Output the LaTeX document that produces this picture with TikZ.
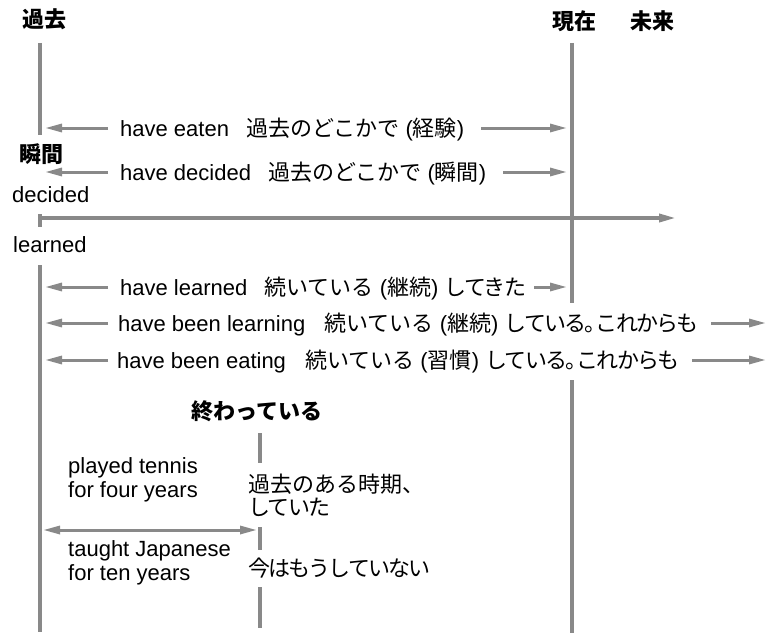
\documentclass[tikz,border=0pt]{standalone}
\usepackage{fontspec}
\setmainfont{Liberation Sans}
\newfontfamily\jp{Noto Sans CJK JP}
\newfontfamily\jpn{Noto Sans CJK JP}[LetterSpace=-8]
\newcommand{\maru}{。\hspace{-11pt}}
\usetikzlibrary{arrows.meta}
\definecolor{ln}{RGB}{137,137,137}
\begin{document}
\begin{tikzpicture}[x=1pt,y=-1pt,
  axis/.style={draw=ln,line width=3.5pt},
  arr/.style={draw=ln,line width=3pt,-{Triangle[length=17pt,width=8pt]}},
  dbl/.style={draw=ln,line width=3pt,{Triangle[length=17pt,width=8pt]}-{Triangle[length=17pt,width=8pt]}},
  txt/.style={inner sep=0pt,anchor=base west,font=\fontsize{22}{26}\selectfont},
  ttl/.style={inner sep=0pt,anchor=base,font=\fontsize{22}{26}\selectfont\jp\bfseries}]
\useasboundingbox (0,0) rectangle (768,634);
% titles
\node[ttl] (kako) at (45,28) {過去};
\node[ttl] (genzai) at (574,30) {現在};
\node[ttl] (mirai) at (652,30) {未来};
\node[ttl] (shunkan) at (41,162) {瞬間};
\node[txt] (decided) at (12,202) {decided};
\node[txt] (learned) at (13,252) {learned};
\node[ttl] (owatte) at (257,419) {終わっている};
% main vertical lines
\coordinate (L0) at (40,43); \coordinate (L1) at (40,135);
\coordinate (L2) at (40,214); \coordinate (L3) at (40,227);
\coordinate (L4) at (40,265); \coordinate (L5) at (40,632);
\draw[axis] (L0) -- (L1);
\draw[axis] (L2) -- (L3);
\draw[axis] (L4) -- (L5);
\coordinate (R0) at (572,43); \coordinate (R1) at (572,303);
\coordinate (R2) at (572,380); \coordinate (R3) at (572,633);
\draw[axis] (R0) -- (R1);
\draw[axis] (R2) -- (R3);
\coordinate (M0) at (260,433); \coordinate (M1) at (260,463);
\coordinate (M2) at (260,527); \coordinate (M3) at (260,550);
\coordinate (M4) at (260,587); \coordinate (M5) at (260,628);
\draw[axis] (M0) -- (M1);
\draw[axis] (M2) -- (M3);
\draw[axis] (M4) -- (M5);
% horizontal axis
\coordinate (A0) at (40,218); \coordinate (A1) at (676,218);
\draw[arr,line width=3.5pt] (A0) -- (A1);
% row 1
\node[txt] (r1) at (120,136) {have eaten\hspace{17pt}{\jp 過去のどこかで} ({\jp 経験})};
\coordinate (r1a) at (108,128); \coordinate (r1b) at (45,128);
\coordinate (r1c) at (481,128); \coordinate (r1d) at (567,128);
\draw[arr] (r1a) -- (r1b);
\draw[arr] (r1c) -- (r1d);
% row 2
\node[txt] (r2) at (120,180) {have decided\hspace{17pt}{\jp 過去のどこかで} ({\jp 瞬間})};
\coordinate (r2a) at (108,172); \coordinate (r2b) at (45,172);
\coordinate (r2c) at (503,172); \coordinate (r2d) at (567,172);
\draw[arr] (r2a) -- (r2b);
\draw[arr] (r2c) -- (r2d);
% row 3
\node[txt] (r3) at (120,295) {have learned\hspace{17pt}{\jp 続いている} ({\jp 継続}) {\jpn してきた}};
\coordinate (r3a) at (108,287); \coordinate (r3b) at (45,287);
\coordinate (r3c) at (534,287); \coordinate (r3d) at (567,287);
\draw[arr] (r3a) -- (r3b);
\draw[arr] (r3c) -- (r3d);
% row 4
\node[txt] (r4) at (118,331) {have been learning\hspace{19pt}{\jp 続いている} ({\jp 継続}) {\jpn している\maru これからも}};
\coordinate (r4a) at (108,323); \coordinate (r4b) at (45,323);
\coordinate (r4c) at (711,323); \coordinate (r4d) at (766,323);
\draw[arr] (r4a) -- (r4b);
\draw[arr] (r4c) -- (r4d);
% row 5
\node[txt] (r5) at (117,368) {have been eating\hspace{19pt}{\jp 続いている} ({\jp 習慣}) {\jpn している\maru これからも}};
\coordinate (r5a) at (108,360); \coordinate (r5b) at (45,360);
\coordinate (r5c) at (692,360); \coordinate (r5d) at (766,360);
\draw[arr] (r5a) -- (r5b);
\draw[arr] (r5c) -- (r5d);
% bottom section
\node[txt] (t1) at (68,473) {played tennis};
\node[txt] (t2) at (68,497) {for four years};
\node[txt] (t3) at (68,556) {taught Japanese};
\node[txt] (t4) at (68,580) {for ten years};
\node[txt] (j1) at (248,492) {\jp 過去のある時期、};
\node[txt] (j2) at (248,515) {\jpn していた};
\node[txt] (j3) at (248,576) {\jpn 今はもうしていない};
\coordinate (D0) at (43,530); \coordinate (D1) at (257,530);
\draw[dbl] (D0) -- (D1);
\end{tikzpicture}
\end{document}
